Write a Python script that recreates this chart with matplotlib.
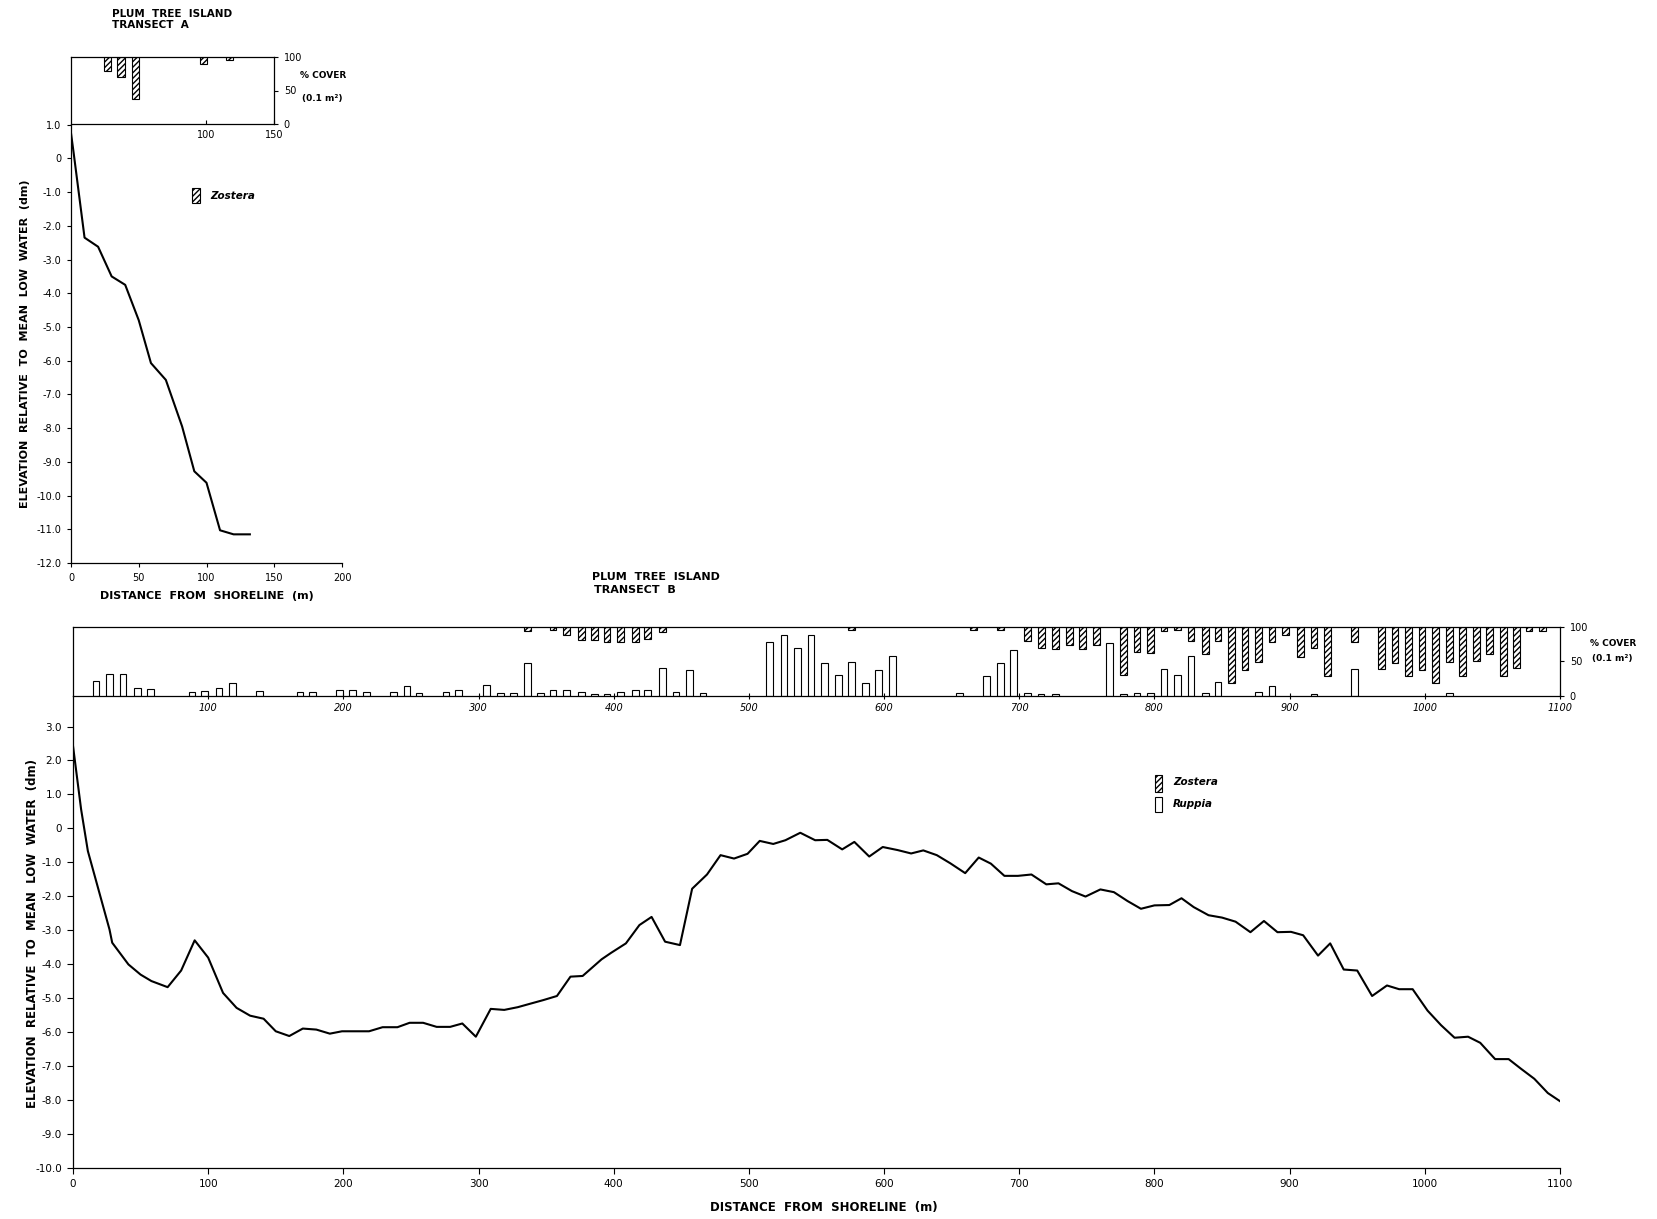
import matplotlib
matplotlib.use("Agg")
import matplotlib.pyplot as plt
from matplotlib.patches import Rectangle

# ---------------- Transect A ----------------
dist_a = [0, 2, 10, 20, 30, 40, 50, 59, 70, 82, 91, 100, 110, 120, 132]
elev_a = [0.75, 0.15, -2.35, -2.62, -3.5, -3.75, -4.8, -6.07, -6.57, -7.95,
          -9.28, -9.62, -11.03, -11.15, -11.15]

zos_pos_a = [27, 37, 47.5, 98, 117]
zos_cov_a = [21, 30, 62, 11, 5]

# ---------------- Transect B ----------------
dist_b = [0, 6, 11, 27, 29, 41, 50, 58, 70, 80, 90, 100, 111, 121, 131, 141,
          150, 160, 170, 180, 190, 199, 219, 229, 240, 249, 259, 269, 279, 288,
          298, 309, 319, 329, 338, 348, 358, 368, 377, 391, 398, 409, 419, 428,
          438, 449, 458, 469, 479, 489, 499, 508, 518, 527, 538, 549, 558, 569,
          578, 589, 599, 610, 620, 629, 639, 649, 660, 670, 679, 689, 699, 709,
          720, 729, 739, 749, 760, 770, 780, 790, 800, 811, 820, 829, 840, 850,
          860, 871, 881, 891, 901, 910, 921, 930, 940, 950, 961, 972, 981, 991,
          1002, 1012, 1022, 1032, 1041, 1052, 1062, 1071, 1081, 1091, 1100]
elev_b = [2.43, 0.56, -0.67, -2.98, -3.37, -4.01, -4.31, -4.50, -4.68, -4.19,
          -3.30, -3.81, -4.85, -5.29, -5.52, -5.61, -5.98, -6.12, -5.90, -5.93,
          -6.05, -5.98, -5.98, -5.86, -5.86, -5.73, -5.73, -5.85, -5.85, -5.75,
          -6.14, -5.32, -5.35, -5.27, -5.17, -5.06, -4.94, -4.37, -4.35, -3.86,
          -3.67, -3.39, -2.85, -2.61, -3.34, -3.44, -1.78, -1.36, -0.79, -0.89,
          -0.75, -0.37, -0.46, -0.35, -0.13, -0.35, -0.34, -0.62, -0.40, -0.83,
          -0.55, -0.64, -0.74, -0.65, -0.79, -1.03, -1.32, -0.86, -1.04, -1.40,
          -1.40, -1.36, -1.65, -1.62, -1.85, -2.01, -1.80, -1.88, -2.14, -2.37,
          -2.27, -2.26, -2.06, -2.32, -2.56, -2.63, -2.75, -3.06, -2.73, -3.06,
          -3.05, -3.15, -3.75, -3.39, -4.16, -4.19, -4.94, -4.63, -4.74, -4.74,
          -5.37, -5.80, -6.17, -6.14, -6.32, -6.80, -6.80, -7.08, -7.38, -7.80,
          -8.04]

rup_pos_b = [17, 27, 37, 47.5, 57.5, 88, 97, 108, 118, 138, 168, 177, 197, 207,
             217, 237, 247, 256, 276, 285, 306, 316, 326, 336, 346, 355, 365,
             376, 386, 395, 405, 416, 425, 436, 446, 456, 466, 515, 526, 536,
             546, 556, 566, 576, 586, 596, 606, 656, 676, 686, 696, 706, 716,
             727, 767, 777, 787, 797, 807, 817, 827, 838, 847, 877, 887, 918,
             948, 1018]
rup_cov_b = [22, 31, 31, 11, 10, 5, 7, 11, 19, 7, 5, 5, 9, 9,
             5, 5, 14, 4, 6, 9, 15, 4, 4, 47, 4, 9, 9,
             5, 3, 2, 5, 9, 9, 40, 5, 37, 4, 78, 88, 69,
             88, 48, 30, 49, 19, 38, 58, 4, 29, 48, 67, 4, 3,
             2, 77, 3, 4, 4, 39, 30, 58, 4, 20, 5, 14, 3,
             39, 4]

zos_pos_b = [336, 355, 365, 376, 386, 395, 405, 416, 425, 436, 576, 666, 686,
             706, 716.5, 727, 737, 747, 757, 777, 787, 797, 807, 817, 827, 838,
             847, 857, 867, 877, 887, 897, 908, 918, 928, 948, 968, 978, 988,
             998, 1008, 1018, 1028, 1038, 1048, 1058, 1068, 1077, 1087]
zos_cov_b = [6, 5, 11, 19, 19, 22, 22, 22, 17, 8, 5, 4, 4,
             20, 31, 32, 26, 32, 26, 70, 37, 38, 6, 5, 21, 40,
             21, 81, 62, 51, 22, 12, 43, 31, 71, 22, 61, 52, 71,
             62, 81, 51, 71, 50, 40, 71, 60, 6, 6]

cover_ticks = [0, 50, 100]
elev_ticks_a = list(range(-12, 2))
elev_ticks_b = list(range(-10, 4))
dist_ticks_a = [0, 50, 100, 150, 200]
dist_ticks_b = list(range(0, 1101, 100))

W, H = 1657, 1219
plt.rcParams['font.family'] = ['DejaVu Sans']
plt.rcParams['hatch.linewidth'] = 1.0
plt.rcParams['axes.linewidth'] = 0.9

fig = plt.figure(figsize=(W / 100, H / 100), dpi=100)


def rect(x0, y0, x1, y1):
    return [x0 / W, 1 - y1 / H, (x1 - x0) / W, (y1 - y0) / H]


def ftext(x, y, s, **kw):
    fig.text(x / W, 1 - y / H, s, **kw)


def dm(v):
    return "0" if v == 0 else "%.1f" % v


HATCH = '//////'
LW = 0.8
BOLD = 'semibold'

# ---- Transect A: elevation profile (transparent background) ----
axa = fig.add_axes(rect(71, 124.7, 342, 563))
axa.patch.set_visible(False)
axa.plot(dist_a, elev_a, color='black', lw=1.5)
axa.set_xlim(0, 200)
axa.set_ylim(-12, 1)
for s in ('top', 'right'):
    axa.spines[s].set_visible(False)
axa.set_yticks(elev_ticks_a)
axa.set_yticklabels([dm(t) for t in elev_ticks_a])
axa.set_xticks(dist_ticks_a)
axa.tick_params(axis='both', direction='out', length=3, labelsize=7, pad=4)
axa.set_xlabel("DISTANCE  FROM  SHORELINE  (m)", fontsize=8, labelpad=6,
               fontweight=BOLD)
ftext(25, 344, "ELEVATION  RELATIVE  TO  MEAN  LOW  WATER  (dm)", fontsize=8,
      rotation=90, ha='center', va='center', fontweight=BOLD)
ftext(112, 14, "PLUM  TREE  ISLAND", fontsize=7.5, ha='left', va='center',
      fontweight='bold')
ftext(112, 25, "TRANSECT  A", fontsize=7.5, ha='left', va='center',
      fontweight='bold')

# ---- Transect A: percent cover ----
axa_c = fig.add_axes(rect(71, 57, 274, 124))
axa_c.patch.set_visible(False)
axa_c.set_xlim(0, 150)
axa_c.set_ylim(0, 100)
axa_c.bar(zos_pos_a, zos_cov_a, width=5.5, bottom=[100 - c for c in zos_cov_a],
          facecolor='white', edgecolor='black', hatch=HATCH, linewidth=LW)
axa_c.yaxis.tick_right()
axa_c.set_yticks(cover_ticks)
axa_c.set_yticklabels([str(t) for t in cover_ticks])
axa_c.tick_params(axis='y', direction='out', length=3, labelsize=7, pad=4)
axa_c.set_xticks([100, 150])
axa_c.set_xticklabels(['100', '150'])
axa_c.tick_params(axis='x', direction='in', length=3, labelsize=7, pad=4)
ftext(300, 76, "% COVER", fontsize=6.5, va='center', ha='left',
      fontweight=BOLD)
ftext(302, 99, "(0.1 m²)", fontsize=6.5, va='center', ha='left',
      fontweight=BOLD)

# legend A
fig.patches.append(Rectangle((192 / W, 1 - 203 / H), 8 / W, 15 / H,
                             transform=fig.transFigure, facecolor='white',
                             edgecolor='black', hatch=HATCH, linewidth=LW))
ftext(210, 196, "Zostera", fontsize=7.5, style='italic', va='center',
      fontweight=BOLD)

# ---- Transect B: elevation profile ----
axb = fig.add_axes(rect(73, 696, 1560, 1167.7))
axb.patch.set_visible(False)
axb.plot(dist_b, elev_b, color='black', lw=1.5)
axb.set_xlim(0, 1100)
axb.set_ylim(-10, 3.9)
for s in ('top', 'right'):
    axb.spines[s].set_visible(False)
axb.set_yticks(elev_ticks_b)
axb.set_yticklabels([dm(t) for t in elev_ticks_b])
axb.set_xticks(dist_ticks_b)
axb.tick_params(axis='both', direction='out', length=4, labelsize=7.5, pad=4)
ftext(824, 1207, "DISTANCE  FROM  SHORELINE  (m)", fontsize=8.5,
      ha='center', va='center', fontweight=BOLD)
ftext(33, 934, "ELEVATION  RELATIVE  TO  MEAN  LOW  WATER  (dm)", fontsize=8.5,
      rotation=90, ha='center', va='center', fontweight=BOLD)
ftext(592, 577, "PLUM  TREE  ISLAND", fontsize=8, ha='left', va='center',
      fontweight='bold')
ftext(594, 590, "TRANSECT  B", fontsize=8, ha='left', va='center',
      fontweight='bold')

# ---- Transect B: percent cover ----
axb_c = fig.add_axes(rect(73, 627, 1560, 695.7))
axb_c.patch.set_visible(False)
axb_c.set_xlim(0, 1100)
axb_c.set_ylim(0, 100)
axb_c.bar(rup_pos_b, rup_cov_b, width=5, facecolor='white', edgecolor='black',
          linewidth=LW)
axb_c.bar(zos_pos_b, zos_cov_b, width=5, bottom=[100 - c for c in zos_cov_b],
          facecolor='white', edgecolor='black', hatch=HATCH, linewidth=LW)
axb_c.yaxis.tick_right()
axb_c.set_yticks(cover_ticks)
axb_c.set_yticklabels([str(t) for t in cover_ticks])
axb_c.tick_params(axis='y', direction='out', length=3, labelsize=7, pad=4)
axb_c.set_xticks(dist_ticks_b[1:])
axb_c.set_xticklabels([str(t) for t in dist_ticks_b[1:]], style='italic')
axb_c.tick_params(axis='x', direction='inout', length=5, labelsize=7, pad=3)
ftext(1590, 643, "% COVER", fontsize=6.5, va='center', ha='left',
      fontweight=BOLD)
ftext(1592, 659, "(0.1 m²)", fontsize=6.5, va='center', ha='left',
      fontweight=BOLD)

# legend B
fig.patches.append(Rectangle((1155 / W, 1 - 792 / H), 7 / W, 17 / H,
                             transform=fig.transFigure, facecolor='white',
                             edgecolor='black', hatch=HATCH, linewidth=LW))
ftext(1173, 782, "Zostera", fontsize=7.5, style='italic', va='center',
      fontweight=BOLD)
fig.patches.append(Rectangle((1155 / W, 1 - 812 / H), 7 / W, 15 / H,
                             transform=fig.transFigure, facecolor='white',
                             edgecolor='black', linewidth=LW))
ftext(1173, 804, "Ruppia", fontsize=7.5, style='italic', va='center',
      fontweight=BOLD)

fig.savefig("out.png", dpi=100, facecolor='white')
